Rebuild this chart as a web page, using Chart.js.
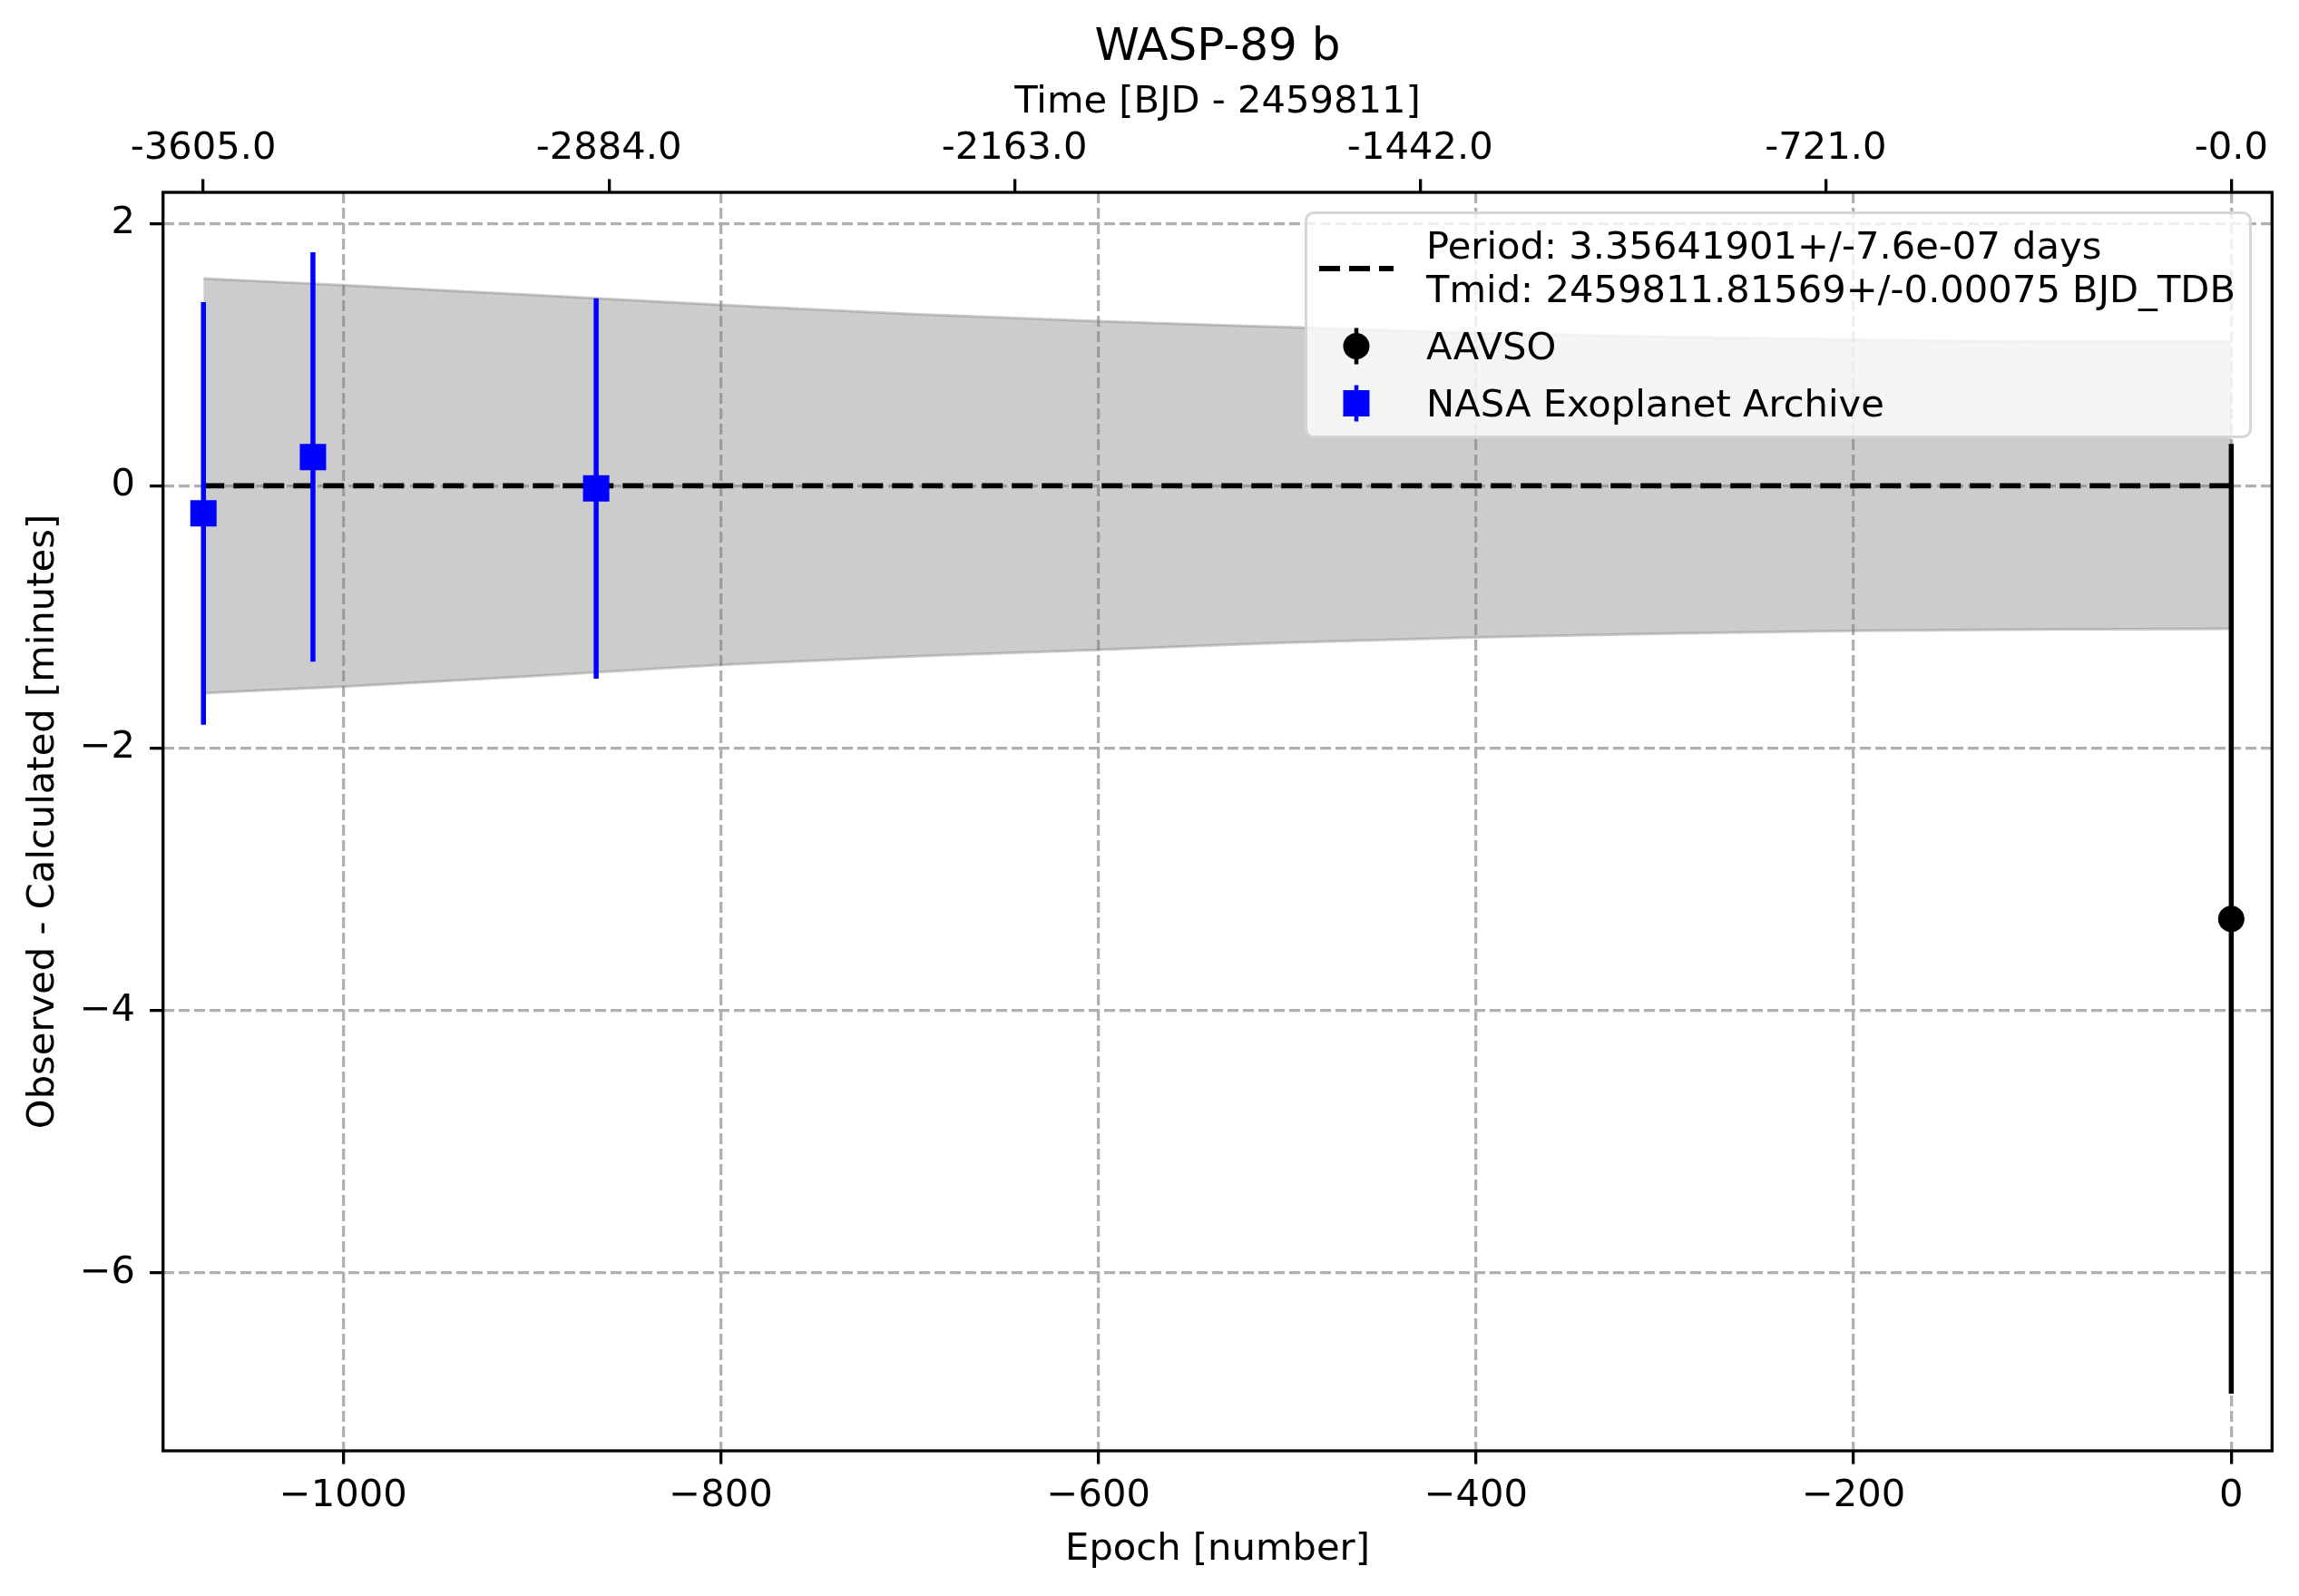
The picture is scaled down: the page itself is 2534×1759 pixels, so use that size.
<!DOCTYPE html>
<html>
<head>
<meta charset="utf-8">
<script src="https://cdn.jsdelivr.net/npm/chart.js@4.4.0/dist/chart.umd.min.js"></script>
<style>
  html, body { margin: 0; padding: 0; background: #fff; }
  #wrap { position: relative; width: 2534px; height: 1759px; }
  #legend {
    position: absolute;
    font-family: 'DejaVu Sans';
    font-size: 41.67px;
    line-height: 48.3px;
    color: #000;
    background: rgba(255,255,255,0.8);
    border: 3.3px solid rgba(204,204,204,0.8);
    border-radius: 10px;
    padding: 10.3px 15px 10.7px 131px;
    white-space: nowrap;
  }
  .entry { position: relative; }
  .entry + .entry { margin-top: 15px; }
  .entry svg { position: absolute; left: -118px; top: 0; }
</style>
</head>
<body>
<div id="wrap">
  <canvas id="ocChart" width="2534" height="1759"></canvas>
  <div id="legend">
    <div class="entry">
      <svg width="82" height="96.6"><line x1="0" x2="82" y1="49" y2="49" stroke="#000" stroke-width="5.8" stroke-dasharray="23 10"/></svg>
      Period: 3.35641901+/-7.6e-07 days<br>Tmid: 2459811.81569+/-0.00075 BJD_TDB
    </div>
    <div class="entry">
      <svg width="82" height="48.3"><line x1="41" x2="41" y1="3.5" y2="43.5" stroke="#000" stroke-width="4.5"/><circle cx="41" cy="23.5" r="14.5" fill="#000"/></svg>
      AAVSO
    </div>
    <div class="entry">
      <svg width="82" height="48.3"><line x1="41" x2="41" y1="3.5" y2="43.5" stroke="#0000ff" stroke-width="4.5"/><rect x="26.5" y="9" width="29" height="29" fill="#0000ff"/></svg>
      NASA Exoplanet Archive
    </div>
  </div>
</div>
<script>
// values
const period = 3.35641901;

const nasaEpoch = [-1074, -1016, -866];
const nasaOC = [-0.21, 0.22, -0.02];
const nasaErr = [1.61, 1.56, 1.45];

const aavsoEpoch = [0];
const aavsoOC = [-3.30];
const aavsoErr = [3.62];

const bandEpoch = [-1074, -1000, -900, -800, -700, -600, -500, -400, -300, -200, -100, 0];
const bandUpper = [1.58, 1.53, 1.455, 1.38, 1.31, 1.255, 1.21, 1.165, 1.135, 1.115, 1.10, 1.10];
const bandLower = [-1.58, -1.53, -1.45, -1.365, -1.30, -1.25, -1.195, -1.155, -1.125, -1.105, -1.095, -1.09];

const xTicks = [-1000, -800, -600, -400, -200, 0];
const yTicks = [-6, -4, -2, 0, 2];
const topTickTimes = [-3605, -2884, -2163, -1442, -721, 0];
const topTickLabels = ['-3605.0', '-2884.0', '-2163.0', '-1442.0', '-721.0', '-0.0'];

const xRange = [-1095.4, 21.6];
const yRange = [-7.355, 2.237];

const pts = (xs, ys) => xs.map((x, i) => ({ x: x, y: ys[i] }));
const minus = v => String(v).replace('-', '\u2212');
const tickFont = { family: 'DejaVu Sans', size: 41.67, lineHeight: 1.2 };

Chart.defaults.font.family = 'DejaVu Sans';
Chart.defaults.color = '#000';

// matplotlib style vertical error bars, drawn just before their points
const errorBars = {
  id: 'errorBars',
  beforeDatasetDraw(chart, args) {
    const ds = chart.data.datasets[args.index];
    if (!ds.errors) return;
    const { ctx, chartArea, scales: { x, y } } = chart;
    ctx.save();
    ctx.beginPath();
    ctx.rect(chartArea.left, chartArea.top, chartArea.right - chartArea.left, chartArea.bottom - chartArea.top);
    ctx.clip();
    ctx.strokeStyle = ds.backgroundColor;
    ctx.lineWidth = 5.5;
    ctx.beginPath();
    ds.data.forEach((p, i) => {
      const px = x.getPixelForValue(p.x);
      ctx.moveTo(px, y.getPixelForValue(p.y - ds.errors[i]));
      ctx.lineTo(px, y.getPixelForValue(p.y + ds.errors[i]));
    });
    ctx.stroke();
    ctx.restore();
  }
};

// box round the plot, like the axes spines
const spines = {
  id: 'spines',
  afterDraw(chart) {
    const { ctx, chartArea: a } = chart;
    ctx.save();
    ctx.strokeStyle = '#000';
    ctx.lineWidth = 3.3;
    ctx.strokeRect(a.left, a.top, a.right - a.left, a.bottom - a.top);
    ctx.restore();
  }
};

const gridDash = [12, 5];

const chart = new Chart(document.getElementById('ocChart'), {
  type: 'scatter',
  data: {
    datasets: [
      {
        label: 'AAVSO',
        data: pts(aavsoEpoch, aavsoOC),
        errors: aavsoErr,
        backgroundColor: '#000000',
        pointStyle: 'circle',
        pointRadius: 14.5,
        borderWidth: 0
      },
      {
        label: 'NASA Exoplanet Archive',
        data: pts(nasaEpoch, nasaOC),
        errors: nasaErr,
        backgroundColor: '#0000ff',
        pointStyle: 'rect',
        pointRadius: 20.5,
        borderWidth: 0
      },
      {
        label: 'fit',
        data: pts([bandEpoch[0], bandEpoch[bandEpoch.length - 1]], [0, 0]),
        showLine: true,
        borderColor: '#000',
        borderWidth: 5.8,
        borderDash: [23, 10],
        pointRadius: 0
      },
      {
        label: 'upper',
        data: pts(bandEpoch, bandUpper),
        showLine: true,
        cubicInterpolationMode: 'monotone',
        borderColor: 'rgba(128,128,128,0.4)',
        borderWidth: 3,
        backgroundColor: 'rgba(128,128,128,0.4)',
        fill: '+1',
        pointRadius: 0
      },
      {
        label: 'lower',
        data: pts(bandEpoch, bandLower),
        showLine: true,
        cubicInterpolationMode: 'monotone',
        borderColor: 'rgba(128,128,128,0.4)',
        borderWidth: 3,
        fill: false,
        pointRadius: 0
      }
    ]
  },
  options: {
    responsive: false,
    devicePixelRatio: 1,
    animation: false,
    events: [],
    layout: { padding: { left: 0, right: 29.7, top: 0, bottom: 0 } },
    plugins: {
      legend: { display: false },
      tooltip: { enabled: false },
      title: {
        display: true,
        text: 'WASP-89 b',
        fullSize: false,
        color: '#000',
        font: { family: 'DejaVu Sans', size: 50, weight: 'normal', lineHeight: 1.2 },
        padding: { top: 23.5, bottom: 0 }
      }
    },
    scales: {
      x: {
        type: 'linear',
        position: 'bottom',
        min: xRange[0],
        max: xRange[1],
        afterBuildTicks: s => { s.ticks = xTicks.map(v => ({ value: v })); },
        afterFit: s => { s.height = 160; },
        ticks: { font: tickFont, color: '#000', padding: 10.7, autoSkip: false, maxRotation: 0, callback: v => minus(v) },
        grid: { color: '#b0b0b0', lineWidth: 3.3, tickLength: 14.6, tickColor: '#000', tickWidth: 3.3, tickBorderDash: [] },
        border: { display: false, dash: gridDash },
        title: { display: true, text: 'Epoch [number]', color: '#000', font: tickFont, padding: { top: 0, bottom: 26 } }
      },
      x2: {
        type: 'linear',
        axis: 'x',
        position: 'top',
        min: xRange[0] * period,
        max: xRange[1] * period,
        afterBuildTicks: s => { s.ticks = topTickTimes.map(v => ({ value: v })); },
        afterFit: s => { s.height = 128.5; },
        ticks: { font: tickFont, color: '#000', padding: 8.6, autoSkip: false, maxRotation: 0, callback: (v, i) => topTickLabels[i] },
        grid: { drawOnChartArea: false, tickLength: 14.6, color: '#000', lineWidth: 3.3, tickColor: '#000', tickWidth: 3.3 },
        border: { display: false },
        title: { display: true, text: 'Time [BJD - 2459811]', color: '#000', font: tickFont, padding: { top: 4.3, bottom: 0 } }
      },
      y: {
        type: 'linear',
        position: 'left',
        min: yRange[0],
        max: yRange[1],
        afterBuildTicks: s => { s.ticks = yTicks.map(v => ({ value: v })); },
        afterFit: s => { s.width = 179.7; },
        ticks: { font: tickFont, color: '#000', padding: 16, autoSkip: false, callback: v => minus(v) },
        grid: { color: '#b0b0b0', lineWidth: 3.3, tickLength: 14.6, tickColor: '#000', tickWidth: 3.3, tickBorderDash: [] },
        border: { display: false, dash: gridDash },
        title: { display: true, text: 'Observed - Calculated [minutes]', color: '#000', font: tickFont, padding: { top: 23.5, bottom: 0 } }
      }
    }
  },
  plugins: [errorBars, spines]
});

// legend sits in the upper right corner of the plot area
const legend = document.getElementById('legend');
const area = chart.chartArea;
legend.style.top = (area.top + 21.3) + 'px';
legend.style.right = (2534 - area.right + 22.3) + 'px';
</script>
</body>
</html>
